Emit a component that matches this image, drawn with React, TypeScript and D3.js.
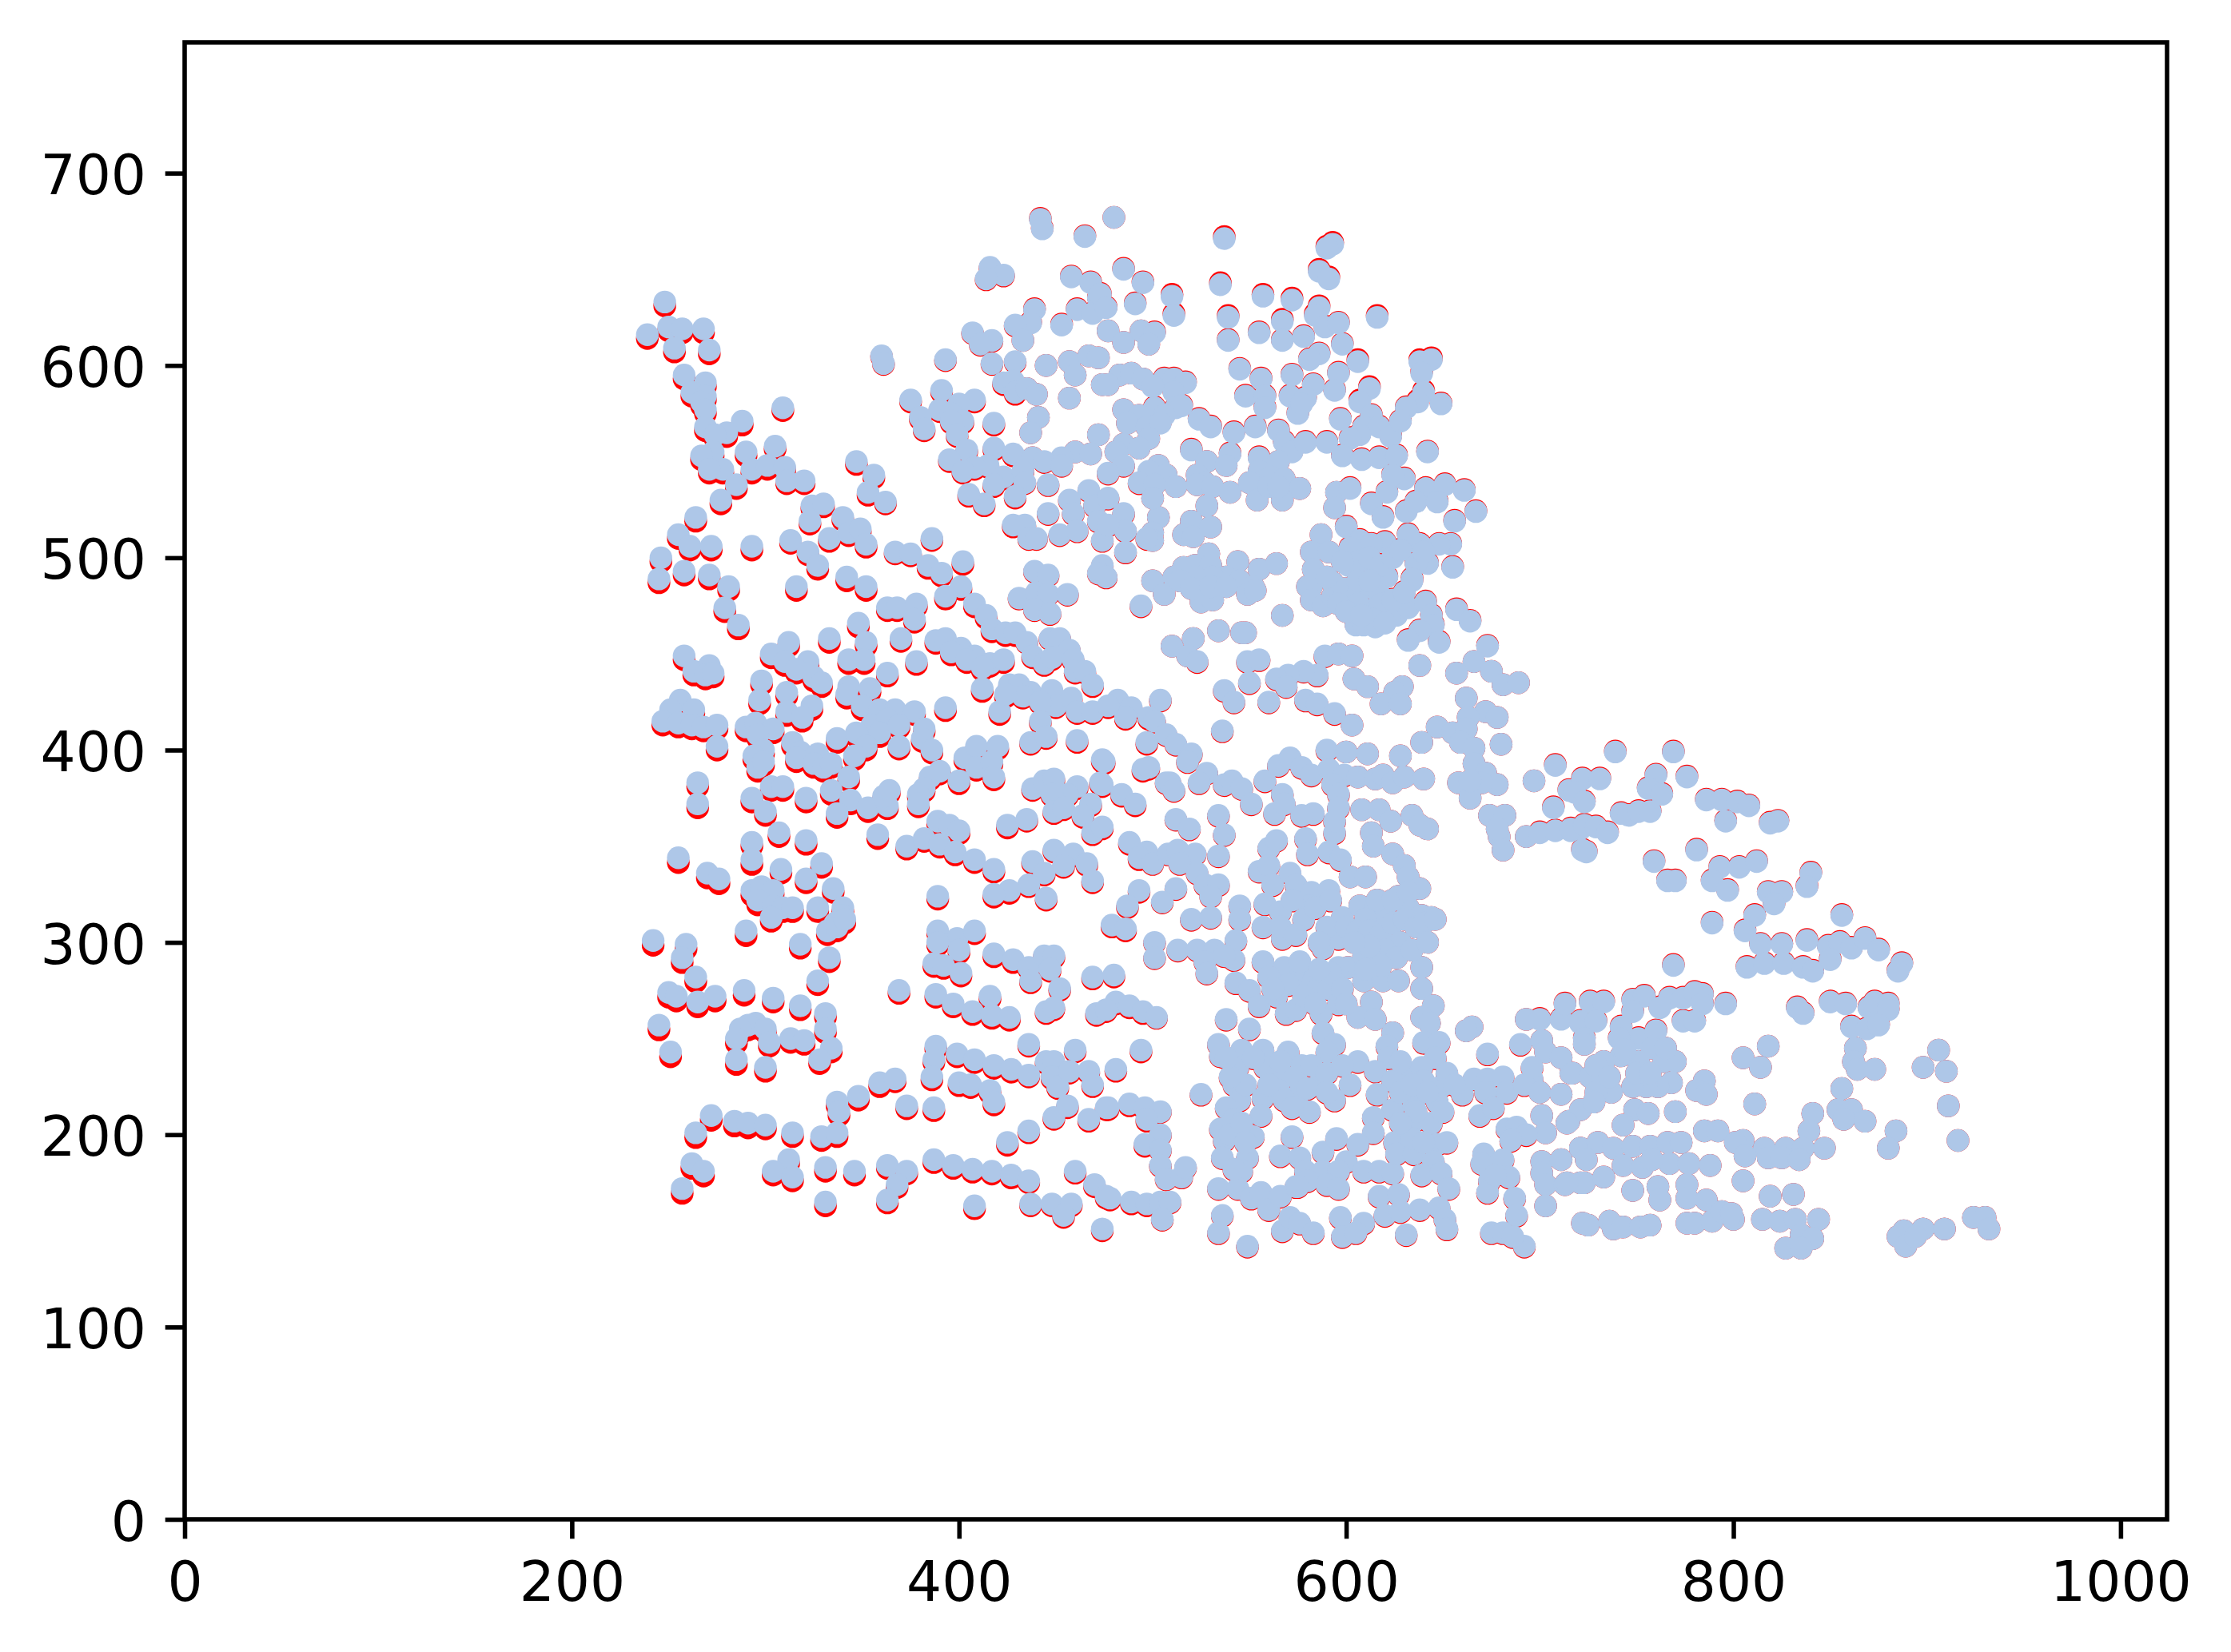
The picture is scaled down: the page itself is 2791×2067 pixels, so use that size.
import React, { useEffect, useRef } from 'react';
import * as d3 from 'd3';

// every row: [x, light blue y, red y] in image pixels
const upperLeftPoints = [
  [248,633,631],[239,616,614],[250,620,618],[257,619,617],[268,619,617],[253,609,607],[271,608,606],[258,595,593],[269,591,589],[262,586,584],
  [269,584,582],[267,581,579],[269,577,575],[269,568,566],[288,571,569],[280,565,563],[274,564,562],[273,555,553],[267,553,551],[278,546,544],
  [271,546,544],[290,555,553],[305,558,556.5],[293,546,544],[301,548,546],[310,547,545.5],[311,540,538.5],[320,540,538.5],[285,538,536],[277,530,528],
  [309,578,576.5],[347,550,548.5],[356,543,541.5],[353,534,532.5],[362,529,528],[264,521,519],[255,512,510],[261,506,504],[272,506,504],[293,506,504],
  [246,500,498],[245,489,487],[258,493,491],[271,491,489],[281,485,483],[313,509,507.5],[322,503,501.5],[327,496,494],[324,527,525.5],[330,528,526.5],
  [323,519,517.5],[340,521,519.5],[333,510,508.5],[343,513,511.5],[349,515,513.5],[352,507,505.5],[367,503,502],[375,502,501],[384,496,494.5],[391,492,490.5],
  [386,510,509],[402,498,496.5],[342,490,488],[352,485,483],[316,485,483],[401,485,483.5],[439,493,492.5],[446,491,490.5],
];

const upperMiddlePoints = [
  [442,676,676.5],[443,671,671.5],[465,667,667.5],[416,651,650.5],[423,647,646.5],[414,645,644.5],[458,646,646.5],[468,643,643.5],[472,635,635.5],[461,629,629.5],
  [469,627,627.5],[439,629,629.5],[437,622,622.5],[429,621,620.5],[433,613,613],[453,621,621.5],[407,617,616.5],[417,613,612.5],[411,611,610.5],[417,601,600.5],
  [429,602,601.5],[445,600,600],[457,602,602],[467,605,605],[472,604,604],[460,595,595],[474,590,590],[360,605,604.5],[361,601,600.5],[393,603,602.5],
  [423,591,590],[428,592,591],[429,586,585],[435,588,588],[440,585,585],[457,583,583],[375,582,581],[391,587,586],[408,582,581],[400,580,579],
  [390,577,576],[396,575,574],[402,571,570],[396,571,570],[399,564,563],[380,573,572],[382,567,566],[418,570,569],[441,573,573],[437,565,565],
  [472,564,564],[460,555,555],[453,552,551.5],[468,554,554],[404,556,555],[395,551,550],[418,557,556],[415,548,547],[408,547,546],[402,545,544],
  [428,554,553],[438,552,552],[444,550,549.5],[453,548,547.5],[423,542,541],[433,545,544.5],[434,539,538.5],[446,538,537.5],[418,538,537],[429,532,531],
  [413,528,527],[405,533,532],[467,535,534.5],[457,530,529.5],[446,523,522.5],[459,523,522.5],[470,527,526.5],[472,519,518.5],[452,512,511.5],[461,514,513.5],
  [474,509,508.5],[428,517,516],[434,517,516.5],[436,510,509.5],[440,510,509.5],[474,496,495.5],
];

const middleLeftPoints = [
  [279,474,472],[286,465,463],[363,474,472.5],[368,474,472.5],[378,476,474.5],[377,468,466.5],[393,480,478.5],[408,476,474.5],[414,470,468.5],[417,463,461.5],
  [424,461,459.5],[429,461,459.5],[435,456,455.5],[431,479,478.5],[440,482,481.5],[446,481,480.5],[456,481,480.5],[439,473,472.5],[447,471,470.5],[472,492,491.5],
  [438,449,448],[444,445,444],[447,458,457.5],[452,458,457.5],[448,448,447],[457,452,451.5],[459,447,446],[460,441,440],[465,441,440],[469,434,433],
  [348,466,464],[352,456,454],[343,447,445],[351,447,445],[333,458,456],[312,456,454],[303,450,448],[310,446,444],[322,446,444],[316,442,440],
  [325,438,436],[329,435,433],[370,458,456.5],[378,446,444.5],[363,440,438.5],[388,457,455.5],[393,458,456.5],[401,453,451.5],[396,451,449.5],[408,449,447.5],
  [404,447,445.5],[416,445,443.5],[423,447,445.5],[412,443,441.5],[412,432,430.5],[258,449,447],[271,444,442],[263,441,439],[269,439,437],[273,440,438],
  [298,436,434],[297,426,424],[311,430,428],[311,420,418],[324,423,421],[319,417,415],[343,433,431],[342,429,427],[354,432,430],[350,423,421],
  [359,421,419],[367,421,419.5],[377,420,418.5],[355,413,411],[363,416,414.5],[359,409,407],[369,413,411.5],[382,411,409.5],[381,406,404.5],[386,400,398.5],
  [393,422,420.5],[426,434,432.5],[431,434,433],[437,430,429],[433,428,427],[448,431,430],[450,423,422],[442,425,424],[458,427,426],[461,420,419],
  [469,420,419],[421,420,418.5],[424,429,427.5],[256,426,424],[251,421,419],[263,421,419],[247,415,413],[255,414,412],[262,413,411],[268,412,410],
  [275,413,411],[275,402,400],[290,412,410],[295,414,412],[304,411,409],[296,408,406],[299,400,398],[294,397,395],[296,391,389],[299,394,392],
  [314,404,402],[318,399,397],[327,398,396],[316,396,394],[325,393,391],[330,391,389],[337,406,404],[334,393,391],[343,386,384],[347,409,407],
  [352,402,400],[346,397,395],[369,402,400.5],[390,389,387.5],[385,386,384.5],[382,380,378.5],[379,377,375.5],[379,372,370.5],[400,384,382.5],[403,396,394.5],
  [409,402,400.5],[420,402,400.5],[409,391,389.5],[417,394,392.5],[418,386,384.5],[437,404,403],[442,415,414],[445,407,406],[461,405,404],[474,395,394],
  [473,383,382],[265,383,381],[265,372,370],[293,375,373],[300,368,366],[303,381,379],[309,381,379],[321,375,373],[334,379,377],[344,374,372],
  [337,367,365],[353,370,368],[363,371,369.5],[361,376,374.5],[364,379,377.5],[307,357,355],[321,353,351],[293,352,350],[293,343,340.5],[358,356,354],
  [373,350,348.5],[382,354,352.5],[389,363,361.5],[395,361,359.5],[400,358,356.5],[390,351,349.5],[398,347,345.5],[408,343,341.5],[418,338,336.5],[425,361,359.5],
  [435,364,363],[438,380,379],[444,384,383],[449,385,384],[461,381,380],[456,377,376],[448,377,376],[449,368,367],[454,370,369],[468,372,371],
  [464,366,365],[469,357,356],[449,348,347],[459,346,345],[438,342,341],[444,336,335],[454,340,339],[466,341,340],[469,332,331],[436,330,329],
  [426,327,325.5],[418,325,323.5],[445,323,322],[255,344,341.5],[270,336,333.5],[276,333,330.5],[308,338,336],[321,333,331],[329,341,339],[335,328,326],
  [293,327,324.5],[298,329,326.5],[304,327,325],[296,322,319.5],[304,319,317],[309,318,316],[314,318,316],[303,313,311],[327,318,316],[340,318,316],
  [340,314,312],[336,310,308],[389,324,322.5],
];

const lowerLeftPoints = [
  [242,301,298.5],[259,299,296.5],[257,292,289.5],[264,282,279.5],[250,274,271.5],[254,272,269.5],[265,269,266.5],[274,272,269.5],[245,257,254.5],[251,243,240.5],
  [290,306,303.5],[318,299,297],[333,292,290],[327,280,278],[332,306,304],[337,308,306],[341,312,310],[289,275,272.5],[304,271,269],[318,267,265],
  [331,263,261],[331,255,253],[295,258,255.5],[291,257,254.5],[287,255,252.5],[300,255,253],[285,250,247.5],[302,248,246],[313,250,248],[320,249,247],
  [334,245,243],[328,239,237],[285,239,236.5],[300,235,233],[389,306,304.5],[399,302,300.5],[408,306,304.5],[389,300,298.5],[400,296,294.5],[387,289,287.5],
  [392,288,286.5],[401,284,282.5],[418,294,292.5],[428,291,289.5],[436,287,286],[437,280,279],[444,293,292],[449,293,292],[447,286,285],[452,276,275],
  [469,282,281],[369,275,273.5],[388,273,271.5],[397,268,266.5],[407,264,262.5],[416,272,270.5],[417,262,260.5],[426,261,259.5],[445,264,263],[449,266,265],
  [471,263,262],[388,246,244.5],[387,239,237.5],[386,230,228.5],[399,242,240.5],[408,239,237.5],[418,236,234.5],[427,234,232.5],[436,231,230],[436,247,246],
  [460,244,243],[445,238,237],[449,238,237],[448,230,229],[451,225,224],[457,233,232],[467,233,232],[469,226,225],[400,227,225.5],[406,226,224.5],
  [416,223,221.5],[418,217,215.5],[359,227,225],[367,229,227.5],[348,220,218],[337,217,215],[338,212,210],[373,215,213.5],[387,214,212.5],[456,215,214],
  [449,209,208],[467,208,207],[436,202,201],[425,196,194.5],[476,214,213],[272,210,207.5],[264,201,198.5],[284,207,204.5],[291,206,203.5],[300,205,203],
  [314,201,199],[329,199,197],[337,201,199],[262,185,182.5],[268,181,178.5],[257,172,169.5],[312,187,185],[304,181,179],[314,178,176],[331,183,181],
  [346,181,179],[363,184,182.5],[373,181,179.5],[368,174,172.5],[387,187,185.5],[397,184,182.5],[407,182,180.5],[417,181,179.5],[427,179,177.5],[436,176,175],
  [460,181,180],[470,174,173],[476,168,167],[331,165,163],[363,166,164.5],[408,163,161.5],[437,164,163],[448,164,163],[458,164,163],[454,158,157],[474,151,150],
];

const upperRightPoints = [
  [480,677,677],[537,666,667],[485,650,650.5],[495,643,643.5],[593,663,664],[590,661,662],[586,649,650],[591,645,646],[535,642,643],[510,636,637],
  [511,626,627],[557,636,637],[572,634,635],[491,632,632.5],[586,630,631],[584,626,627],[589,620,620.5],[596,622,622.5],[539,625,626],[539,613,613.5],
  [555,617,617.5],[567,623,624],[567,613,613.5],[578,615,615.5],[616,625,626],[473,637,637.5],[476,630,630.5],[477,618,618],[485,612,612],[494,618,618],
  [501,617,617.5],[498,611,611],[598,611,611.5],[606,602,603],[586,606,606.5],[581,603,603.5],[596,596,596.5],[594,587,587.5],[545,598,598.5],[556,593,593.5],
  [572,595,595.5],[583,590,590.5],[548,584,584.5],[558,584,584.5],[571,584,584.5],[579,583,583.5],[558,578,578.5],[575,575,575.5],[577,580,580.5],[612,588,589],
  [607,581,582],[613,574,574.5],[597,572,572.5],[609,568,568.5],[617,568,568.5],[607,564,564.5],[623,563,563.5],[602,562,562.5],[638,602,603],[644,603,604],
  [639,596,597],[640,586,587],[637,581,582],[631,578,578.5],[628,571,571.5],[649,580,580.5],[642,555,555.5],[483,595,595],[489,596,596],[477,590,590],
  [495,593,593],[506,593,593.5],[511,593,593.5],[517,591,591.5],[500,589,589.5],[511,586,586.5],[485,577,577],[501,578,578.5],[512,578,578.5],[515,579,579.5],
  [493,574,574],[506,574,574.5],[487,570,570],[497,568,568],[504,570,570.5],[498,562,562],[524,572,572.5],[530,568,568.5],[542,565,565.5],[553,568,568.5],
  [565,566,566.5],[568,560,560.5],[572,555,555.5],[579,560,560.5],[590,560,560.5],[485,559,559],[493,557,557],[481,555,555],[485,548,547.5],[477,544,543.5],
  [520,556,556.5],[528,550,550],[540,554,554.5],[538,548,548],[503,548,548],[498,545,544.5],[507,543,543],[523,543,543],[527,539,539],[493,539,538.5],
  [501,538,538],[512,537,537],[523,538,538],[531,537,537],[540,534,534],[528,527,527],[555,552,552.5],[565,550,550],[555,545,545],[550,539,539],
  [561,542,542],[568,541,541],[576,536,536],[554,530,530],[567,530,530],[560,537,537],[565,537,537],[598,553,553.5],[608,551,551.5],[617,552,552.5],
  [626,553,553.5],[595,534,534],[602,536,536.5],[594,526,526],[613,528,528.5],[621,534,534.5],[619,521,521.5],[630,541,541.5],[624,543,543.5],[631,524,524.5],
  [641,536,536.5],[651,538,538.5],[661,535,535.5],[636,529,529.5],[647,529,529.5],[656,519,519.5],[667,524,524.5],[654,507,507.5],[648,507,507.5],[638,507,507.5],
  [655,495,495.5],[642,497,497.5],[636,497,497.5],[634,488,488.5],[640,503,503.5],[485,523,522.5],[486,514,513.5],[486,503,502.5],[503,521,521],[500,531,531],
  [500,513,513],[500,509,509],[497,510,509.5],[477,531,530.5],[477,517,516.5],[476,490,489.5],[520,519,519],[516,512,512],[521,511,511],[530,516,516],
  [587,512,512],[600,516,516.5],[582,503,503],[591,503,503],[607,509,509.5],[620,508,508.5],[613,507,507.5],[602,505,505.5],[632,512,512.5],[609,499,499.5],
  [615,496,496.5],[621,490,490.5],[583,494,494],[601,496,496.5],[544,498,498],[555,494,494],[564,497,497],[529,502,502],[516,495,495],[500,488,488],
  [511,490,490],[522,496,496],[530,496,496],[538,490,490],[545,488,488],[552,485,485],[522,490,490],[531,490,490],[580,485,485],[593,487,487],[606,485,485.5],
];

const centerPoints = [
  [494,475,474.5],[506,481,481],[514,488,488],[525,477,477],[531,478,478],[520,484,484],[530,485,485],[538,485,485],[549,481,481],[553,483,483],
  [567,470,470],[582,485,485],[582,478,478],[588,475,475],[593,480,480],[599,484,484],[606,481,481.5],[617,481,481.5],[605,469,469.5],[605,465,465.5],
  [609,465,465.5],[615,464,464.5],[610,473,473.5],[626,470,470.5],[626,474,474.5],[632,474,474.5],[641,477,477.5],[644,470,470.5],[645,465,465.5],[638,462,462.5],
  [632,457,457.5],[648,456,456.5],[634,489,489.5],[657,473,473.5],[664,467,467.5],[638,444,444],[673,454,454.5],[666,446,446],[657,440,440],[675,441,441],
  [681,434,434],[689,435,435],[510,454,454],[521,458,458],[518,449,449],[523,446,445.5],[534,462,462],[548,461,461],[546,461,461],[504,426,425.5],
  [549,446,445.5],[555,447,446.5],[550,435,434.5],[537,431,430.5],[542,425,424.5],[536,410,409.5],[589,449,448.5],[596,450,450],[603,449,449],[585,439,438.5],
  [578,441,440.5],[570,439,438.5],[564,437,436.5],[569,433,432.5],[560,425,424.5],[604,437,437],[611,433,433],[579,426,425.5],[585,424,423.5],[594,419,418.5],
  [603,413,413],[629,433,433],[625,430,430],[618,424,424],[628,424,424],[662,427,427],[672,420,420],[678,417,417],[663,417,417],[647,412,412],
  [655,409,409],[662,411,411],[659,404,404],[666,401,401],[680,403,403],[639,404,404],[666,393,393],[672,388,388],[678,382,382],[658,383,383],
  [670,383,383],[664,375,375],[664,384,384],[708,392,392.5],[697,384,384],[715,379,379.5],[707,370,370.5],[674,366,366],[682,366,366],[679,355,355],
  [681,348,348],[693,355,355],[700,357,357.5],[708,358,358.5],[716,358,358.5],[678,359,359],[722,348,348.5],[721,359,359.5],[497,404,403],[482,426,425],
  [489,422,421],[498,417,416],[501,415,414.5],[486,417,416],[477,423,422],[507,408,407.5],[512,403,402.5],[520,398,397.5],[518,394,393.5],[528,388,387.5],
  [524,383,382.5],[475,394,393],[474,382,381],[495,390,389],[498,391,390],[507,383,382.5],[509,383,382.5],[511,379,378.5],[484,377,376],[491,372,371],
  [474,360,359],[537,382,381.5],[541,384,383.5],[546,380,379.5],[551,372,371.5],[558,384,383.5],[565,392,391.5],[571,396,395.5],[577,391,390.5],[582,387,386.5],
  [590,400,399.5],[600,399,399],[611,398,398],[628,397,397],[591,390,389.5],[599,387,386.5],[606,386,386],[615,385,385],[619,387,387],[624,383,383],
  [630,386,386],[640,385,385],[593,382,381.5],[596,377,376.5],[596,370,369.5],[583,367,366.5],[577,366,365.5],[563,367,366.5],[567,377,376.5],[568,372,371.5],
  [594,357,356.5],[594,363,362.5],[608,369,369],[617,369,369],[623,363,363],[634,366,366],[642,359,359],[638,361,361],[613,357,357],[614,350,350],
  [624,346,346],[630,340,340],[632,334,334],[638,328,328],[627,324,324],[512,364,363.5],[519,359,358.5],[534,366,365.5],[537,356,355.5],[534,345,344.5],
  [488,352,351],[497,347,346],[493,344,343],[500,341,340.5],[508,346,345.5],[513,348,347.5],[522,346,345.5],[514,341,340.5],[523,336,335.5],[527,330,329.5],
  [534,330,329.5],[530,324,323.5],[493,327,326],[487,319,318],[512,328,327.5],[505,321,320.5],[560,349,348.5],[564,353,352.5],[579,354,353.5],[580,346,345.5],
  [591,347,346.5],[597,343,342.5],[602,334,334],[610,334,334],[555,337,336.5],[560,340,339.5],[562,330,329.5],[571,336,335.5],[574,330,329.5],[582,326,325.5],
  [591,327,326.5],[581,319,318.5],[520,312,311.5],[530,313,312.5],[545,319,318.5],[545,312,311.5],[558,320,319.5],[598,313,312.5],[607,319,319],[615,317,317],
  [632,318,318],[639,314,314],[644,313,313],[620,314,314],[610,312,312],
];

const lowerMiddlePoints = [
  [479,309,308],[486,307,306],[501,300,299.5],[501,292,291.5],[513,296,295.5],[523,296,295.5],[532,296,295.5],[527,290,289.5],[528,284,283.5],[543,301,300.5],
  [542,291,290.5],[537,293,292.5],[480,283,282],[481,269,268],[488,267,266],[495,264,263],[502,261,260.5],[476,265,264],[538,260,259.5],[550,255,254.5],
  [494,244,243],[481,234,233],[525,221,220.5],[534,247,246.5],[535,241,240.5],[546,244,243.5],[557,244,243.5],[544,235,234.5],[542,226,225.5],[558,235,234.5],
  [570,243,242.5],[577,236,235.5],[568,230,229.5],[587,228,227.5],[565,223,222.5],[557,219,218.5],[545,218,217.5],[576,222,221.5],[568,218,217.5],[556,210,209.5],
  [581,212,211.5],[538,214,213.5],[535,203,202.5],[542,208,207.5],[552,199,198.5],[537,197,196.5],[536,188,187.5],[549,188,187.5],[546,181,180.5],[534,172,171.5],
  [544,172,171.5],[551,167,166.5],[556,170,169.5],[560,161,160.5],[566,168,167.5],[574,173,172.5],[536,158,157.5],[534,149,148.5],[549,142,141.5],[477,214,213],
  [488,216,215],[496,214,213],[504,212,211.5],[497,208,207],[504,200,199.5],[496,195,194],[504,192,191.5],[504,184,183.5],[507,177,176.5],[515,178,177.5],
  [517,183,182.5],[478,167,166],[489,165,164],[497,164,163],[504,165,164.5],[509,165,164.5],[505,156,155.5],[557,290,289.5],[568,287,286.5],[576,282,281.5],
  [583,280,279.5],[560,282,281.5],[543,279,278.5],[550,275,274.5],[555,267,266.5],[564,272,271.5],[569,263,262.5],[574,265,264.5],[585,275,274.5],[591,276,275.5],
  [596,268,267.5],[587,263,262.5],[588,253,252.5],[594,247,246.5],[590,243,242.5],[567,302,301.5],[588,297,296.5],[557,308,307.5],[596,302,301.5],[601,287,287],
  [596,287,286.5],[609,280,280],[619,280,280],[627,280,280],[609,293,293],[639,287,287],[639,276,276],[645,267,267],[639,261,261],[643,258,258],
  [613,269,269],[606,261,261],[615,260,260],[624,253,253],[621,246,245.5],[622,240,239.5],[640,248,247.5],[648,248,247.5],[646,240,239.5],[606,238,237.5],
  [615,233,232.5],[602,226,225.5],[631,233,232.5],[639,235,234.5],[624,228,227.5],[616,221,220.5],[640,228,227.5],[649,225,224.5],[624,213,212.5],[635,215,214.5],
  [635,207,206.5],[647,217,216.5],[644,206,205.5],[614,209,208.5],[614,201,200.5],[594,218,217.5],[665,256,256],[662,254,254],[673,242,241.5],[660,221,220.5],
  [666,229,228.5],[673,229,228.5],[681,230,229.5],[696,229,228.5],[683,222,221.5],[692,226,225.5],[672,222,221.5],[700,222,222],[711,221,221],[716,232,232],
  [669,210,209.5],[676,214,213.5],[693,260,260],[700,260,260.5],[711,260,260.5],[713,268,268.5],[721,258,258.5],[690,247,246.5],[701,249,249],[703,243,243],
  [711,240,240],[696,235,234.5],[701,210,210],[703,201,201],[715,207,207],[683,203,202.5],[688,204,203.5],[693,200,199.5],[685,197,196.5],[671,190,189.5],
  [670,185,184.5],[681,187,186.5],[674,176,175.5],[684,178,177.5],[673,170,169.5],[677,179,178.5],[701,186,186],[711,187,187],[701,180,180],[703,174,174],
  [713,174,174],[721,193,193],[721,175,175],[687,167,166.5],[688,158,157.5],[703,163,163],[675,149,148.5],[681,149,148.5],[692,142,141.5],[686,147,146.5],
  [722,154,154],[572,199,198.5],[566,189,188.5],[576,188,187.5],[588,191,190.5],[595,198,197.5],[606,195,194.5],[600,186,185.5],[579,181,180.5],[588,181,180.5],
  [596,181,180.5],[580,176,175.5],[590,174,173.5],[596,172,171.5],[575,173,172.5],[609,181,180.5],[617,181,180.5],[624,180,179.5],[617,168,167.5],[627,169,168.5],
  [625,196,195.5],[626,190,189.5],[635,190,189.5],[647,195,194.5],[645,186,185.5],[639,179,178.5],[649,180,179.5],[653,172,171.5],[597,157,156.5],[609,154,153.5],
  [598,147,146.5],[605,149,148.5],[620,158,157.5],[631,148,147.5],[628,160,159.5],[638,161,160.5],[648,162,161.5],[651,156,155.5],[652,151,150.5],[567,150,149.5],
  [571,157,156.5],[576,154,153.5],[583,149,148.5],
];

const rightPoints = [
  [739,399,399.5],[769,399,399.5],[722,385,385.5],[731,385,385.5],[718,378,378.5],[723,373,373.5],[760,387,387.5],[776,386,386.5],[756,380,380.5],[763,377,377.5],
  [742,367,367.5],[746,366,366.5],[751,368,368.5],[757,368,368.5],[786,374,374.5],[794,374,374.5],[802,373,373.5],[808,371,371.5],[796,363,363.5],[819,362,362.5],
  [823,363,363.5],[716,359,359.5],[723,361,361.5],[729,360,360.5],[735,357,357.5],[724,347,347.5],[781,348,348.5],[759,342,342.5],[766,332,332.5],[770,332,332.5],
  [793,339,339.5],[803,339,339.5],[812,342,342.5],[789,332,332.5],[797,327,327.5],[840,336,336.5],[838,329,329.5],[818,326,326.5],[825,326,326.5],[821,320,320.5],
  [856,314,314.5],[811,314,314.5],[806,306,306.5],[789,310,310.5],[814,299,299.5],[825,299,299.5],[838,301,301.5],[849,298,298.5],[855,300,300.5],[861,297,297.5],
  [868,302,302.5],[875,296,296.5],[807,287,287.5],[816,289,289.5],[826,289,289.5],[836,287,287.5],[841,285,285.5],[850,291,291.5],[887,289,289.5],[885,285,285.5],
  [769,288,288.5],[726,269,269.5],[733,269,269.5],[748,270,270.5],[754,272,272.5],[767,271,271.5],[774,271,271.5],[780,274,274.5],[784,273,273.5],[784,268,268.5],
  [748,264,264.5],[762,266,266.5],[774,259,259.5],[780,259,259.5],[796,268,268.5],[721,259,259.5],[729,259,259.5],[742,256,256.5],[751,250,250.5],[760,254,254.5],
  [741,250,250.5],[723,250,250.5],[723,247,247],[758,245,245],[742,241,241],[770,238,238],[733,238,238],[764,238,238],[751,238,238],[717,232,232],
  [726,230,230],[729,236,236],[768,227,227],[761,225,225],[755,225,225],[748,225,225],[737,222,222],[729,222,222],[785,228,228],[781,223,223],
  [786,221,221],[721,213,213],[728,217,217],[749,213,213],[756,211,211],[770,212,212],[743,205,205],[714,206,206],[811,216,216],[805,240,240],
  [818,246,246],[814,235,235],[833,266,266.5],[836,263,263.5],[850,269,269.5],[858,268,268.5],[870,266,266.5],[873,269,269.5],[880,268,268.5],[880,265,265.5],
  [861,256,256.5],[869,255,255.5],[875,257,257.5],[863,245,245],[862,238,238],[864,234,234],[873,234,234],[906,244,244],[898,235,235],[910,233,233],
  [911,215,215],[916,197,197],[856,224,224],[841,211,211],[854,213,213],[861,213,213],[857,208,208],[868,207,207],[839,202,202],[847,193,193],
  [884,202,202],[880,193,193],[721,193,193],[730,196,196],[738,193,193],[748,194,194],[757,194,194],[766,196,196],[773,196,196],[785,202,202],
  [792,202,202],[805,197,197],[801,196,196],[816,193,193],[827,193,193],[836,193,193],[724,187,187],[743,184,184],[753,183,183],[767,185,185],
  [777,185,185],[788,184,184],[806,189,189],[818,188,188],[825,188,188],[834,187,187],[758,187,187],[723,175,175],[733,178,178],[714,175,175],
  [748,171,171],[761,173,173],[762,166,166],[776,174,174],[776,167,167],[786,166,166],[805,176,176],[819,168,168],[831,169,169],[725,153,153],
  [736,155,155],[738,151,151],[743,152,152],[752,152,152],[757,153,153],[776,154,154],[780,154,154],[789,155,155],[794,160,160],[800,156,156],
  [799,159,159],[815,156,156],[824,155,155],[832,156,156],[844,156,156],[835,148,148],[841,146,146],[827,141,141],[835,141,141],[888,150,150],
  [885,147,147],[889,142,142],[898,151,151],[909,151,151],[894,147,147],[924,157,157],[930,157,157],[932,151,151],
];

// the crowded blobs, where single dots can only be guessed at
const denseBlockPoints = [
  [566,316,315.5],[572,322,321.5],[578,312,311.5],[584,318,317.5],[590,308,307.5],[566,308,307.5],[574,304,303.5],[586,300,299.5],[592,322,321.5],[600,308,308],
  [606,306,306],[612,306,306],[618,304,304],[624,310,310],[630,312,312],[636,308,308],[628,300,300],[620,296,296],[612,298,298],[604,300,300],
  [616,322,322],[624,322,322],[632,326,326],[640,310,310],[626,292,292],[618,288,288],[610,286,286],[634,296,296],[642,300,300],[646,312,312],
  [570,278,277.5],[578,272,271.5],[584,268,267.5],[592,284,283.5],[598,276,275.5],[562,276,275.5],[576,290,289.5],[600,268,268],[586,286,285.5],
  [566,238,237.5],[574,230,229.5],[582,236,235.5],[590,232,231.5],[598,236,235.5],[580,224,223.5],[590,222,221.5],[572,214,213.5],[560,226,225.5],[552,240,239.5],[548,226,225.5],
  [628,222,221.5],[634,226,225.5],[642,222,221.5],[628,238,237.5],[636,212,211.5],[652,232,231.5],[650,212,211.5],[656,226,225.5],[634,198,197.5],[652,196,195.5],[640,196,195.5],[628,206,205.5],
  [606,498,498.5],[612,500,500.5],[618,496,496.5],[624,500,500.5],[628,504,504.5],[606,488,488.5],[612,488,488.5],[618,476,476.5],[624,478,478.5],[630,482,482.5],
  [606,476,476.5],[596,476,476],[600,472,472],[590,490,490],[598,498,498],[614,468,468.5],[620,466,466.5],[608,470,470.5],
  [540,200,199.5],[546,206,205.5],[540,230,229.5],[538,240,239.5],[548,196,195.5],[542,182,181.5],
  [750,232,232],[757,232,232],[765,245,245],[744,244,244],[736,230,230],
];

const xTicks = [0, 200, 400, 600, 800, 1000];
const yTicks = [0, 100, 200, 300, 400, 500, 600, 700];

const allPoints = [
  ...upperLeftPoints, ...upperMiddlePoints, ...middleLeftPoints, ...lowerLeftPoints,
  ...upperRightPoints, ...centerPoints, ...lowerMiddlePoints, ...rightPoints, ...denseBlockPoints,
];

const WIDTH = 2791;
const HEIGHT = 2067;
const RADIUS = 14.2;

export default function App() {
  const ref = useRef<SVGSVGElement | null>(null);

  useEffect(() => {
    const svg = d3.select(ref.current);
    svg.selectAll('*').remove();

    const x = d3.scaleLinear().domain([0, 1024]).range([231, 2711]);
    const y = d3.scaleLinear().domain([0, 768]).range([1901, 53]);

    // red goes underneath, the blue dots only let its edge show
    svg.append('g').selectAll('circle').data(allPoints).enter().append('circle')
      .attr('cx', (d) => x(d[0]))
      .attr('cy', (d) => y(d[2]))
      .attr('r', RADIUS)
      .attr('fill', '#ff0000');
    svg.append('g').selectAll('circle').data(allPoints).enter().append('circle')
      .attr('cx', (d) => x(d[0]))
      .attr('cy', (d) => y(d[1]))
      .attr('r', RADIUS)
      .attr('fill', '#aec7e8');

    const xAxis = d3.axisBottom(x).tickValues(xTicks).tickSize(24.3).tickSizeOuter(0).tickFormat(d3.format('d'));
    const yAxis = d3.axisLeft(y).tickValues(yTicks).tickSize(24.3).tickSizeOuter(0).tickFormat(d3.format('d'));

    const gx = svg.append('g').attr('transform', 'translate(0,1901)').call(xAxis);
    const gy = svg.append('g').attr('transform', 'translate(231,0)').call(yAxis);

    [gx, gy].forEach((g) => {
      g.selectAll('.domain').remove();
      g.selectAll('line').attr('stroke', '#000').attr('stroke-width', 5.55);
      g.selectAll('text')
        .attr('font-family', '"DejaVu Sans"')
        .attr('font-size', 69.4)
        .attr('fill', '#000');
    });
    gx.selectAll('text').attr('y', 102).attr('dy', 0);
    gy.selectAll('text').attr('x', -48).attr('dy', 26);

    svg.append('rect')
      .attr('x', 231)
      .attr('y', 53)
      .attr('width', 2480)
      .attr('height', 1848)
      .attr('fill', 'none')
      .attr('stroke', '#000')
      .attr('stroke-width', 5.55);
  }, []);

  return (
    <svg
      ref={ref}
      width={WIDTH}
      height={HEIGHT}
      style={{ position: 'absolute', left: 0, top: 0, background: '#fff' }}
    />
  );
}
